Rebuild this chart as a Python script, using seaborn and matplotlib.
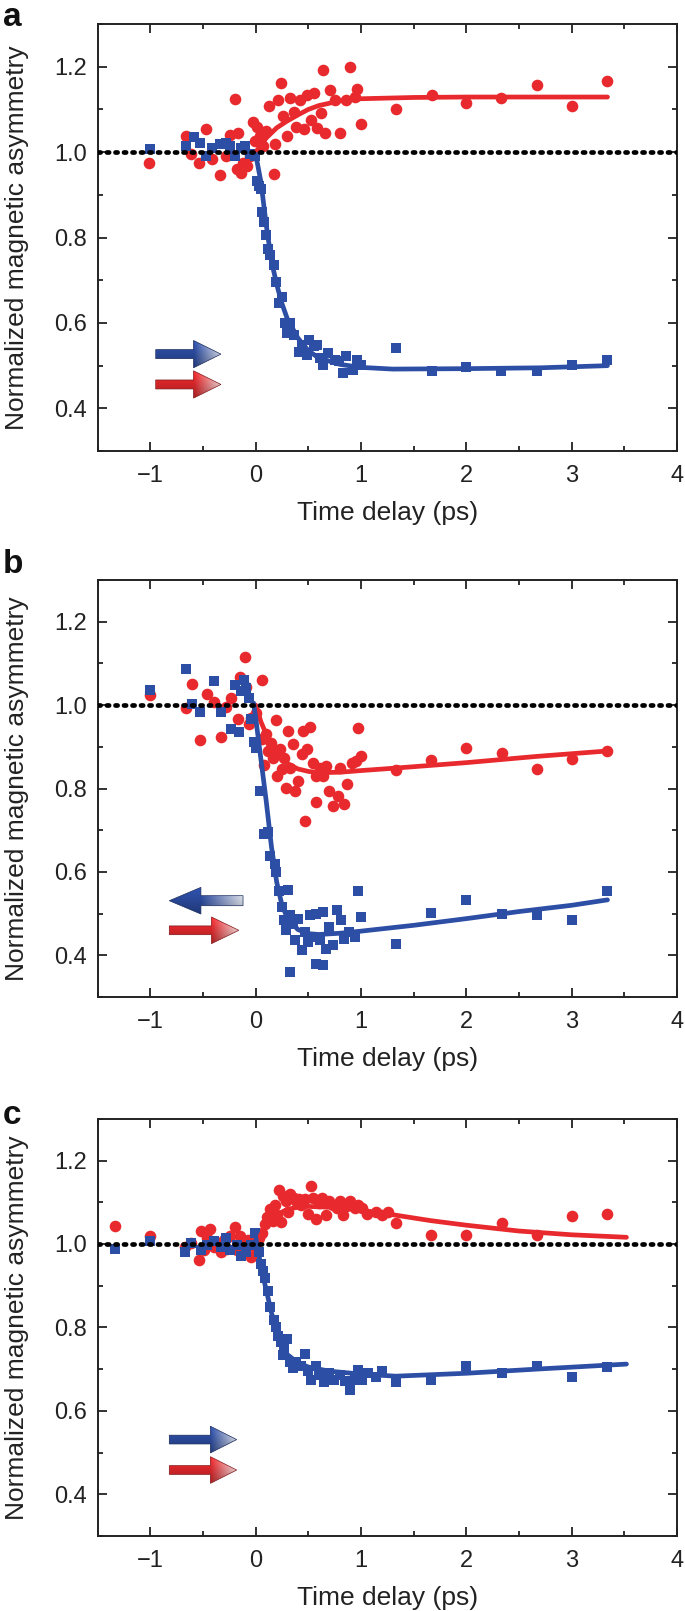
import numpy as np
import pandas as pd
import matplotlib
matplotlib.use("Agg")
import matplotlib.pyplot as plt
import matplotlib.colors as mcolors
import seaborn as sns
from matplotlib.patches import Polygon
from matplotlib.ticker import MultipleLocator, FormatStrFormatter

RED = '#e8292d'
BLUE = '#2d4ea5'

# ---- panel a ----
a_red_t = [-1.01, -0.66, -0.61, -0.54, -0.47, -0.41, -0.34, -0.28, -0.24, -0.20, -0.17, -0.18, -0.14,
           -0.12, -0.08, -0.05, -0.03, -0.01, 0.01, 0.04, 0.07, 0.10, 0.13, 0.17, 0.18, 0.21, 0.24, 0.26,
           0.30, 0.33, 0.36, 0.38, 0.42, 0.46, 0.49, 0.53, 0.55, 0.58, 0.62, 0.64, 0.66, 0.71, 0.75, 0.80,
           0.86, 0.90, 0.94, 0.96, 1.00, 1.33, 1.67, 2.00, 2.33, 2.67, 3.00, 3.34]
a_red_y = [0.975, 1.037, 0.995, 0.975, 1.054, 0.983, 0.946, 0.992, 1.041, 1.125, 1.045, 0.960, 0.952,
           0.975, 0.967, 0.990, 1.070, 1.026, 1.060, 1.037, 1.014, 1.049, 1.109, 0.948, 1.018, 1.122, 1.163,
           1.084, 1.037, 1.126, 1.095, 1.060, 1.122, 1.053, 1.133, 1.076, 1.138, 1.057, 1.091, 1.192, 1.045,
           1.146, 1.122, 1.045, 1.122, 1.200, 1.130, 1.147, 1.066, 1.101, 1.134, 1.116, 1.126, 1.157, 1.109,
           1.167]
a_blue_t = [-1.00, -0.66, -0.59, -0.53, -0.47, -0.41, -0.34, -0.28, -0.24, -0.20, -0.14, -0.10, -0.05,
            -0.01, 0.01, 0.03, 0.05, 0.06, 0.08, 0.10, 0.12, 0.14, 0.17, 0.19, 0.22, 0.25, 0.28, 0.30,
            0.33, 0.36, 0.41, 0.44, 0.49, 0.51, 0.55, 0.58, 0.61, 0.64, 0.69, 0.75, 0.79, 0.83, 0.86, 0.92,
            0.96, 1.00, 1.33, 1.67, 2.00, 2.33, 2.67, 3.00, 3.34]
a_blue_y = [1.008, 1.014, 1.036, 1.022, 0.992, 1.010, 1.018, 1.022, 1.014, 0.991, 1.010, 1.014, 0.995,
            0.991, 0.933, 0.921, 0.913, 0.859, 0.836, 0.805, 0.774, 0.760, 0.735, 0.696, 0.646, 0.661, 0.600,
            0.576, 0.600, 0.572, 0.533, 0.549, 0.526, 0.560, 0.545, 0.549, 0.518, 0.502, 0.529, 0.514, 0.510,
            0.483, 0.522, 0.491, 0.514, 0.502, 0.541, 0.487, 0.498, 0.487, 0.487, 0.502, 0.514]
a_red_fit_t = [0.0, 0.1, 0.2, 0.3, 0.4, 0.5, 0.6, 0.8, 1.0, 1.5, 2.0, 3.34]
a_red_fit_y = [1.0, 1.033, 1.057, 1.073, 1.087, 1.100, 1.109, 1.120, 1.125, 1.128, 1.129, 1.129]
a_blue_fit_t = [-0.1, 0.0, 0.05, 0.1, 0.15, 0.2, 0.25, 0.3, 0.4, 0.5, 0.6, 0.8, 1.0, 1.3, 2.0, 2.7, 3.34]
a_blue_fit_y = [1.0, 0.995, 0.93, 0.83, 0.745, 0.69, 0.645, 0.61, 0.565, 0.535, 0.518, 0.503, 0.496,
                0.492, 0.493, 0.495, 0.5]

# ---- panel b ----
b_red_t = [-1.00, -0.66, -0.60, -0.53, -0.46, -0.40, -0.33, -0.28, -0.23, -0.17, -0.15, -0.10, -0.09,
           -0.06, -0.04, 0.06, 0.00, 0.06, 0.08, 0.10, 0.12, 0.15, 0.16, 0.19, 0.20, 0.23, 0.25, 0.27,
           0.29, 0.31, 0.33, 0.35, 0.37, 0.40, 0.44, 0.45, 0.47, 0.49, 0.52, 0.54, 0.57, 0.57, 0.61, 0.64,
           0.67, 0.70, 0.73, 0.78, 0.80, 0.84, 0.87, 0.91, 0.95, 0.97, 1.00, 1.33, 1.66, 2.00, 2.34, 2.67,
           3.00, 3.34]
b_red_y = [1.025, 0.994, 1.051, 0.916, 1.027, 1.007, 0.924, 0.995, 1.018, 0.966, 1.067, 1.116, 1.043,
           0.954, 0.970, 1.060, 0.982, 0.918, 0.856, 0.930, 0.890, 0.908, 0.874, 0.964, 0.830, 0.894, 0.846,
           0.874, 0.802, 0.939, 0.850, 0.906, 0.794, 0.818, 0.882, 0.938, 0.723, 0.894, 0.947, 0.862, 0.830,
           0.767, 0.850, 0.830, 0.854, 0.793, 0.758, 0.782, 0.850, 0.764, 0.810, 0.862, 0.866, 0.944, 0.878,
           0.844, 0.868, 0.896, 0.884, 0.846, 0.870, 0.890]
b_blue_t = [-1.00, -0.66, -0.60, -0.53, -0.40, -0.33, -0.23, -0.20, -0.16, -0.14, -0.11, -0.09, -0.06,
            -0.04, -0.02, 0.00, 0.04, 0.08, 0.12, 0.14, 0.18, 0.19, 0.22, 0.25, 0.27, 0.29, 0.31, 0.33,
            0.33, 0.35, 0.37, 0.40, 0.44, 0.47, 0.50, 0.52, 0.54, 0.57, 0.57, 0.61, 0.64, 0.64, 0.67, 0.70,
            0.73, 0.77, 0.81, 0.84, 0.89, 0.94, 0.97, 1.00, 1.33, 1.66, 2.00, 2.34, 2.67, 3.00, 3.34]
b_blue_y = [1.037, 1.087, 1.003, 0.983, 1.057, 0.983, 0.943, 1.047, 0.935, 1.033, 1.059, 1.041, 1.018,
            0.966, 0.912, 0.898, 0.794, 0.691, 0.695, 0.639, 0.619, 0.599, 0.555, 0.516, 0.484, 0.460, 0.557,
            0.496, 0.360, 0.476, 0.437, 0.488, 0.412, 0.456, 0.432, 0.496, 0.444, 0.500, 0.380, 0.436, 0.504,
            0.376, 0.416, 0.468, 0.424, 0.508, 0.484, 0.440, 0.456, 0.444, 0.555, 0.492, 0.426, 0.501, 0.533,
            0.500, 0.496, 0.484, 0.554]
b_red_fit_t = [0.0, 0.05, 0.1, 0.15, 0.2, 0.3, 0.4, 0.5, 0.6, 0.8, 1.0, 1.33, 2.0, 2.67, 3.34]
b_red_fit_y = [1.0, 0.96, 0.93, 0.905, 0.885, 0.86, 0.847, 0.841, 0.838, 0.839, 0.843, 0.849, 0.862,
               0.877, 0.89]
b_blue_fit_t = [-0.02, 0.0, 0.05, 0.1, 0.15, 0.2, 0.25, 0.3, 0.4, 0.5, 0.6, 0.8, 1.0, 1.5, 2.0, 2.5,
                3.0, 3.34]
b_blue_fit_y = [1.005, 0.97, 0.87, 0.77, 0.66, 0.575, 0.52, 0.49, 0.462, 0.452, 0.45, 0.453, 0.458,
                0.472, 0.488, 0.505, 0.52, 0.533]

# ---- panel c ----
c_red_t = [-1.34, -1.00, -0.67, -0.61, -0.54, -0.52, -0.49, -0.46, -0.43, -0.40, -0.36, -0.33, -0.30,
           -0.27, -0.24, -0.20, -0.18, -0.15, -0.13, -0.10, -0.07, -0.04, -0.01, 0.03, 0.06, 0.09, 0.11,
           0.14, 0.16, 0.18, 0.20, 0.22, 0.24, 0.26, 0.29, 0.31, 0.33, 0.36, 0.38, 0.41, 0.43, 0.47, 0.50,
           0.53, 0.54, 0.57, 0.60, 0.63, 0.67, 0.70, 0.73, 0.77, 0.80, 0.83, 0.86, 0.90, 0.94, 0.97, 1.01,
           1.06, 1.14, 1.20, 1.26, 1.33, 1.66, 2.00, 2.34, 2.67, 3.00, 3.34]
c_red_y = [1.042, 1.020, 0.993, 1.002, 0.961, 1.031, 0.985, 1.014, 1.035, 0.993, 1.002, 0.981, 1.010,
           0.989, 1.018, 1.040, 0.985, 1.018, 1.002, 0.985, 1.010, 0.968, 0.993, 1.014, 1.027, 1.048, 1.065,
           1.084, 1.056, 1.094, 1.069, 1.129, 1.052, 1.115, 1.103, 1.077, 1.119, 1.111, 1.103, 1.107, 1.094,
           1.107, 1.073, 1.140, 1.111, 1.059, 1.098, 1.111, 1.069, 1.103, 1.094, 1.086, 1.103, 1.069, 1.092,
           1.103, 1.086, 1.094, 1.086, 1.071, 1.077, 1.069, 1.077, 1.050, 1.021, 1.021, 1.050, 1.021, 1.066,
           1.071]
c_blue_t = [-1.34, -1.00, -0.67, -0.61, -0.52, -0.46, -0.40, -0.33, -0.28, -0.24, -0.18, -0.14, -0.09,
            -0.04, -0.01, 0.03, 0.05, 0.07, 0.09, 0.12, 0.14, 0.17, 0.19, 0.21, 0.24, 0.27, 0.30, 0.26,
            0.33, 0.35, 0.38, 0.43, 0.47, 0.50, 0.53, 0.57, 0.60, 0.65, 0.70, 0.74, 0.80, 0.85, 0.90, 0.94,
            0.97, 1.01, 1.07, 1.14, 1.20, 1.33, 1.66, 2.00, 2.34, 2.67, 3.00, 3.34]
c_blue_y = [0.987, 1.008, 0.981, 1.002, 0.985, 0.997, 1.008, 0.993, 1.014, 0.985, 0.997, 0.972, 0.981,
            0.997, 1.027, 0.981, 0.951, 0.934, 0.918, 0.888, 0.850, 0.817, 0.800, 0.779, 0.766, 0.750, 0.771,
            0.733, 0.716, 0.703, 0.716, 0.708, 0.737, 0.695, 0.674, 0.708, 0.687, 0.670, 0.691, 0.674, 0.687,
            0.672, 0.649, 0.674, 0.699, 0.674, 0.691, 0.682, 0.695, 0.670, 0.674, 0.708, 0.691, 0.708, 0.682,
            0.705]
c_red_fit_t = [0.0, 0.1, 0.2, 0.3, 0.4, 0.5, 0.7, 1.0, 1.33, 1.66, 2.0, 2.5, 3.0, 3.52]
c_red_fit_y = [1.0, 1.045, 1.07, 1.083, 1.088, 1.09, 1.088, 1.081, 1.069, 1.056, 1.045, 1.031, 1.022,
               1.016]
c_blue_fit_t = [-0.01, 0.02, 0.05, 0.1, 0.15, 0.2, 0.25, 0.3, 0.4, 0.5, 0.7, 1.0, 1.33, 2.0, 2.67, 3.52]
c_blue_fit_y = [1.03, 0.99, 0.945, 0.89, 0.835, 0.79, 0.755, 0.735, 0.715, 0.705, 0.695, 0.688, 0.683,
                0.69, 0.70, 0.712]

panels = [
    dict(letter='a', red=(a_red_t, a_red_y), blue=(a_blue_t, a_blue_y),
         red_fit=(a_red_fit_t, a_red_fit_y), blue_fit=(a_blue_fit_t, a_blue_fit_y),
         blue_arrow=(-0.95, -0.59, -0.33, 0.527), red_arrow=(-0.95, -0.59, -0.33, 0.456),
         rect=[0.1426, 0.7200, 0.8457, 0.2651], ltop=0.9990),
    dict(letter='b', red=(b_red_t, b_red_y), blue=(b_blue_t, b_blue_y),
         red_fit=(b_red_fit_t, b_red_fit_y), blue_fit=(b_blue_fit_t, b_blue_fit_y),
         blue_arrow=(-0.12, -0.52, -0.82, 0.531), red_arrow=(-0.82, -0.42, -0.16, 0.46),
         rect=[0.1426, 0.3811, 0.8457, 0.2589], ltop=0.6590),
    dict(letter='c', red=(c_red_t, c_red_y), blue=(c_blue_t, c_blue_y),
         red_fit=(c_red_fit_t, c_red_fit_y), blue_fit=(c_blue_fit_t, c_blue_fit_y),
         blue_arrow=(-0.82, -0.43, -0.18, 0.531), red_arrow=(-0.82, -0.43, -0.18, 0.458),
         rect=[0.1426, 0.0466, 0.8457, 0.2589], ltop=0.3175),
]

sns.set_style('ticks')
plt.rcParams['font.family'] = ['Liberation Sans', 'DejaVu Sans']


def draw_arrow(ax, tail, base, tip, y, color, h=0.0105, H=0.032):
    pts = [(tail, y - h), (base, y - h), (base, y - H), (tip, y),
           (base, y + H), (base, y + h), (tail, y + h)]
    clip = Polygon(pts, closed=True, facecolor='none', edgecolor='none')
    ax.add_patch(clip)
    x0, x1 = min(tail, tip), max(tail, tip)
    xs = np.linspace(x0, x1, 300)
    # solid at the head base, fading towards the pale end
    if tip > tail:
        mix = np.interp(xs, [base, tip], [0.0, 0.88])
    else:
        mix = np.interp(xs, [base, tail], [0.0, 0.88])
    rgb = np.array(mcolors.to_rgb(color))
    row = rgb[None, :] * (1 - mix[:, None]) + mix[:, None]
    shade = np.linspace(0.72, 1.08, 40)[:, None, None]
    img = np.clip(row[None, :, :] * shade, 0, 1)
    im = ax.imshow(img, extent=(x0, x1, y - H, y + H), origin='lower', aspect='auto',
                   interpolation='bilinear', zorder=5)
    im.set_clip_path(clip)
    dark = rgb * 0.55
    ax.add_patch(Polygon(pts, closed=True, facecolor='none', edgecolor=dark, lw=0.5, zorder=6))


fig = plt.figure(figsize=(6.85, 16.11), dpi=100)

for p in panels:
    ax = fig.add_axes(p['rect'])
    ax.set_facecolor('white')
    sns.scatterplot(x=p['red'][0], y=p['red'][1], ax=ax, color=RED, marker='o', s=70,
                    linewidth=0, zorder=3)
    sns.scatterplot(x=p['blue'][0], y=p['blue'][1], ax=ax, color=BLUE, marker='s', s=50,
                    linewidth=0, zorder=3)
    sns.lineplot(x=p['red_fit'][0], y=p['red_fit'][1], ax=ax, color=RED, lw=3.4,
                 estimator=None, sort=False, zorder=4)
    sns.lineplot(x=p['blue_fit'][0], y=p['blue_fit'][1], ax=ax, color=BLUE, lw=3.4,
                 estimator=None, sort=False, zorder=4)
    ax.axhline(1.0, color='black', lw=3.4, ls=(0, (0.45, 1.35)), dash_capstyle='round', zorder=7)

    draw_arrow(ax, *p['blue_arrow'][:3], p['blue_arrow'][3], BLUE,
               h=0.012 if p['letter'] == 'b' else 0.0105)
    draw_arrow(ax, *p['red_arrow'][:3], p['red_arrow'][3], RED)

    ax.set_xlim(-1.5, 4)
    ax.set_ylim(0.3, 1.3)
    ax.xaxis.set_major_locator(MultipleLocator(1))
    ax.xaxis.set_minor_locator(MultipleLocator(0.5))
    ax.yaxis.set_major_locator(MultipleLocator(0.2))
    ax.yaxis.set_minor_locator(MultipleLocator(0.1))
    ax.yaxis.set_major_formatter(FormatStrFormatter('%.1f'))
    ax.tick_params(which='both', direction='in', top=True, right=True, width=1.3,
                   color='#222222', labelcolor='#222222', labelsize=17)
    ax.tick_params(which='major', length=6.5)
    ax.tick_params(which='minor', length=3.6)
    ax.tick_params(axis='x', which='major', pad=10)
    ax.tick_params(axis='y', which='major', pad=8)
    for s in ax.spines.values():
        s.set_linewidth(1.4)
        s.set_color('#222222')
        s.set_visible(True)

    ax.set_xlabel('Time delay (ps)', fontsize=19, color='#222222', labelpad=10)
    ax.set_ylabel('Normalized magnetic asymmetry', fontsize=19, color='#222222')
    ax.yaxis.set_label_coords(-0.119, 0.5)

    fig.text(0.004, p['ltop'], p['letter'], fontsize=24, fontweight='bold',
             ha='left', va='top', color='#111111')

fig.savefig('out.png', dpi=100)
